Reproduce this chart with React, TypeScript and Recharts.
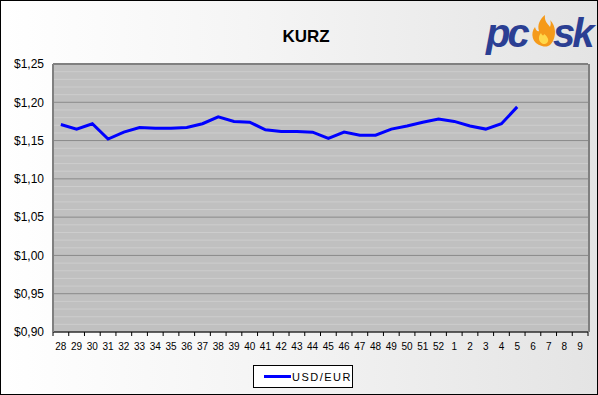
import React from 'react';
import { LineChart, Line, XAxis, YAxis, ReferenceLine } from 'recharts';

const weeks = [
  '28', '29', '30', '31', '32', '33', '34', '35', '36', '37', '38', '39', '40', '41', '42', '43', '44',
  '45', '46', '47', '48', '49', '50', '51', '52', '1', '2', '3', '4', '5', '6', '7', '8', '9',
];
const usdEur = [
  1.171, 1.165, 1.172, 1.152, 1.161, 1.167, 1.166, 1.166, 1.167, 1.172, 1.181, 1.175, 1.174, 1.164,
  1.162, 1.162, 1.161, 1.153, 1.161, 1.157, 1.157, 1.165, 1.169, 1.174, 1.178, 1.175, 1.169, 1.165,
  1.172, 1.194,
];
const majorTicks = [0.9, 0.95, 1.0, 1.05, 1.1, 1.15, 1.2, 1.25];
const minorTicks = [
  0.91, 0.92, 0.93, 0.94, 0.96, 0.97, 0.98, 0.99, 1.01, 1.02, 1.03, 1.04, 1.06, 1.07, 1.08, 1.09,
  1.11, 1.12, 1.13, 1.14, 1.16, 1.17, 1.18, 1.19, 1.21, 1.22, 1.23, 1.24,
];

const data = weeks.map((w, i) => ({ week: w, usd: i < usdEur.length ? usdEur[i] : null }));

const W = 598;
const H = 395;
const PLOT_L = 53;
const PLOT_R = 588;
const PLOT_T = 64;
const PLOT_B = 332;
const BAND = (PLOT_R - PLOT_L) / weeks.length;

const FONT = '"Liberation Sans", Arial, sans-serif';

const fmt = (v: number) => '$' + v.toFixed(2).replace('.', ',');

const XTick = (props: any) => {
  const { x, y, payload, index } = props;
  const last = index === weeks.length - 1;
  return (
    <g>
      <line x1={x - BAND / 2} x2={x - BAND / 2} y1={PLOT_B} y2={PLOT_B + 4} stroke="#000" />
      {last && <line x1={x + BAND / 2} x2={x + BAND / 2} y1={PLOT_B} y2={PLOT_B + 4} stroke="#000" />}
      <text x={x} y={y + 10} textAnchor="middle" fontSize={10} fill="#000" fontFamily={FONT}>
        {payload.value}
      </text>
    </g>
  );
};

const Flame = () => (
  <g transform="translate(532,15)">
    <path
      d="M10 31 C0 29 -2 18 3 12 C4 16 6 17 7 16 C5 10 8 4 13 0 C12 6 16 9 18 12 C19 9 19 7 18 5 C24 10 25 22 19 29 C16 32 13 32 10 31 Z"
      fill="#f59a1a"
    />
    <path d="M11 29 C6 27 6 21 9 18 C10 21 12 21 12 19 C15 21 18 25 15 28 C14 29 12 29 11 29 Z" fill="#ffd84a" />
  </g>
);

export default function App() {
  return (
    <div
      style={{
        position: 'absolute',
        left: 0,
        top: 0,
        width: W,
        height: H,
        boxSizing: 'border-box',
        border: '1px solid #000',
        background: 'linear-gradient(90deg, #ffffff 0%, #f4f4f4 45%, #e4e4e4 100%)',
        fontFamily: FONT,
        overflow: 'hidden',
      }}
    >
      <svg width={W} height={H} style={{ position: 'absolute', left: -1, top: -1 }}>
        <text x={306} y={42} textAnchor="middle" fontSize={17} fontWeight="bold" fill="#000" fontFamily={FONT}>
          KURZ
        </text>
        <text x={486} y={47} fontSize={40} fontWeight="bold" fontStyle="italic" fill="#2b3f93" fontFamily={FONT} letterSpacing={-3}>
          pc
        </text>
        <Flame />
        <text x={553} y={47} fontSize={40} fontWeight="bold" fontStyle="italic" fill="#2b3f93" fontFamily={FONT} letterSpacing={-3}>
          sk
        </text>
      </svg>
      <div style={{ position: 'absolute', left: -1, top: -1 }}>
        <LineChart width={W} height={H} data={data} margin={{ top: PLOT_T, right: W - PLOT_R, bottom: H - PLOT_B - 20, left: 0 }}>
          <rect x={PLOT_L} y={PLOT_T} width={PLOT_R - PLOT_L} height={PLOT_B - PLOT_T} fill="#c0c0c0" />
          {minorTicks.map((v) => (
            <ReferenceLine key={'m' + v} y={v} stroke="#cdcdcd" strokeWidth={1} />
          ))}
          {majorTicks.map((v) => (
            <ReferenceLine key={'M' + v} y={v} stroke="#8a8a8a" strokeWidth={1} />
          ))}
          <XAxis
            dataKey="week"
            height={20}
            interval={0}
            padding={{ left: BAND / 2, right: BAND / 2 }}
            axisLine={{ stroke: '#000' }}
            tickLine={false}
            tick={<XTick />}
          />
          <YAxis
            width={PLOT_L}
            domain={[0.9, 1.25]}
            ticks={majorTicks}
            tickFormatter={fmt}
            axisLine={{ stroke: '#808080', strokeWidth: 2 }}
            tickLine={false}
            tick={{ fill: '#000', fontSize: 12, fontFamily: FONT }}
            tickMargin={3}
          />
          <ReferenceLine y={1.25} stroke="#808080" strokeWidth={2} />
          <Line
            type="linear"
            dataKey="usd"
            stroke="#0000ff"
            strokeWidth={3}
            dot={false}
            isAnimationActive={false}
            connectNulls={false}
          />
        </LineChart>
      </div>
      <div
        style={{
          position: 'absolute',
          left: 252,
          top: 364,
          width: 98,
          height: 21,
          background: '#fff',
          border: '1px solid #000',
          display: 'flex',
          alignItems: 'center',
          fontSize: 11,
          letterSpacing: 1.5,
        }}
      >
        <span style={{ display: 'inline-block', width: 30, height: 3, background: '#0000ff', marginLeft: 10 }} />
        <span style={{ marginLeft: 1 }}>USD/EUR</span>
      </div>
      <div
        style={{
          position: 'absolute',
          left: PLOT_R - 1,
          top: PLOT_T - 1,
          width: 2,
          height: PLOT_B - PLOT_T,
          background: '#808080',
        }}
      />
    </div>
  );
}
